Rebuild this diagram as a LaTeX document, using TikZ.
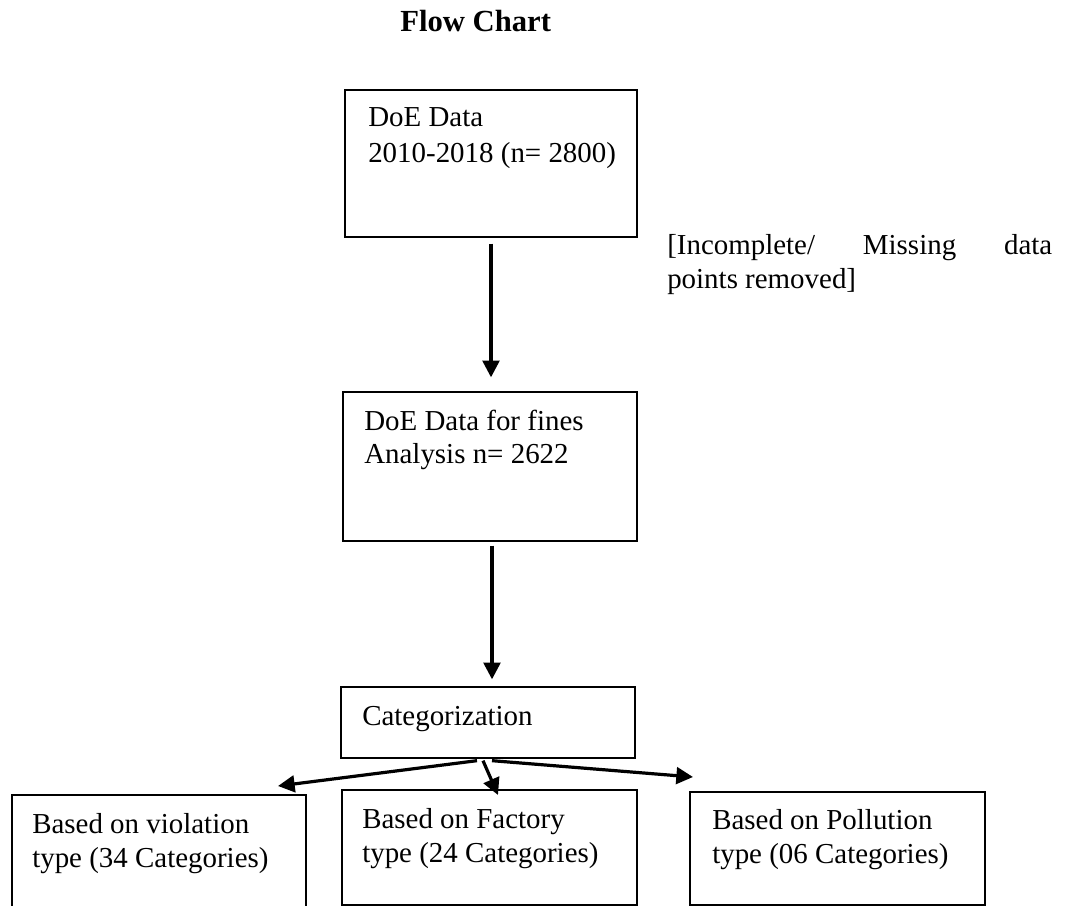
\documentclass[tikz,border=0pt]{standalone}
\usepackage{fontspec}
\setmainfont{Liberation Serif}
\usetikzlibrary{arrows.meta,fit}
\begin{document}
\begin{tikzpicture}[x=0.75pt,y=-0.75pt,
  box/.style={draw,line width=1pt,inner sep=0pt,fit={#1}},
  txt/.style={anchor=base west,inner sep=0pt,font=\fontsize{21.7pt}{26pt}\selectfont},
  arr/.style={line width=2.4pt,-{Triangle[length=12.5pt,width=12.5pt]}}
]
\useasboundingbox (0,0) rectangle (1065,906);
% title
\node[anchor=base west,inner sep=0pt,font=\fontsize{23pt}{27pt}\selectfont\bfseries] (title) at (400,32) {Flow Chart};
% boxes
\node[box={(345,90) (637,237)}] (b1) {};
\node[box={(343,392) (637,541)}] (b2) {};
\node[box={(341,687) (635,758)}] (cat) {};
\node[box={(12,795) (306,915)}] (bL) {};
\node[box={(342,790) (637,905)}] (bM) {};
\node[box={(690,792) (985,905)}] (bR) {};
% texts
\node[txt] (t1a) at (368,127) {DoE Data};
\node[txt] (t1b) at (368,162) {2010-2018 (n= 2800)};
\node[txt] (t2a) at (364,430) {DoE Data for fines};
\node[txt] (t2b) at (364,463) {Analysis n= 2622};
\node[txt] (tc) at (362,725) {Categorization};
\node[txt] (tLa) at (32,833) {Based on violation};
\node[txt] (tLb) at (32,867) {type (34 Categories)};
\node[txt] (tMa) at (362,828) {Based on Factory};
\node[txt] (tMb) at (362,862) {type (24 Categories)};
\node[txt] (tRa) at (712,829) {Based on Pollution};
\node[txt] (tRb) at (712,863) {type (06 Categories)};
\node[txt] (n1) at (667,254) {\makebox[288.75pt][s]{[Incomplete/ Missing data}};
\node[txt] (n2) at (667,288) {points removed]};
% connectors
\draw[arr,shorten <=4.5pt,shorten >=10.5pt] (b1.south) -- (b1.south |- b2.north);
\draw[arr,shorten <=3pt,shorten >=5.25pt] (b2.south) ++(2,0) coordinate (s2) -- (s2 |- cat.north);
\coordinate (tL) at (278,786);
\coordinate (tM) at (498,795);
\coordinate (tR) at (693,777);
\draw[arr] ([shift={(-11,2)}]cat.south) -- (tL);
\draw[arr] ([shift={(-5,2)}]cat.south) -- (tM);
\draw[arr] ([shift={(4,2)}]cat.south) -- (tR);
\end{tikzpicture}
\end{document}
